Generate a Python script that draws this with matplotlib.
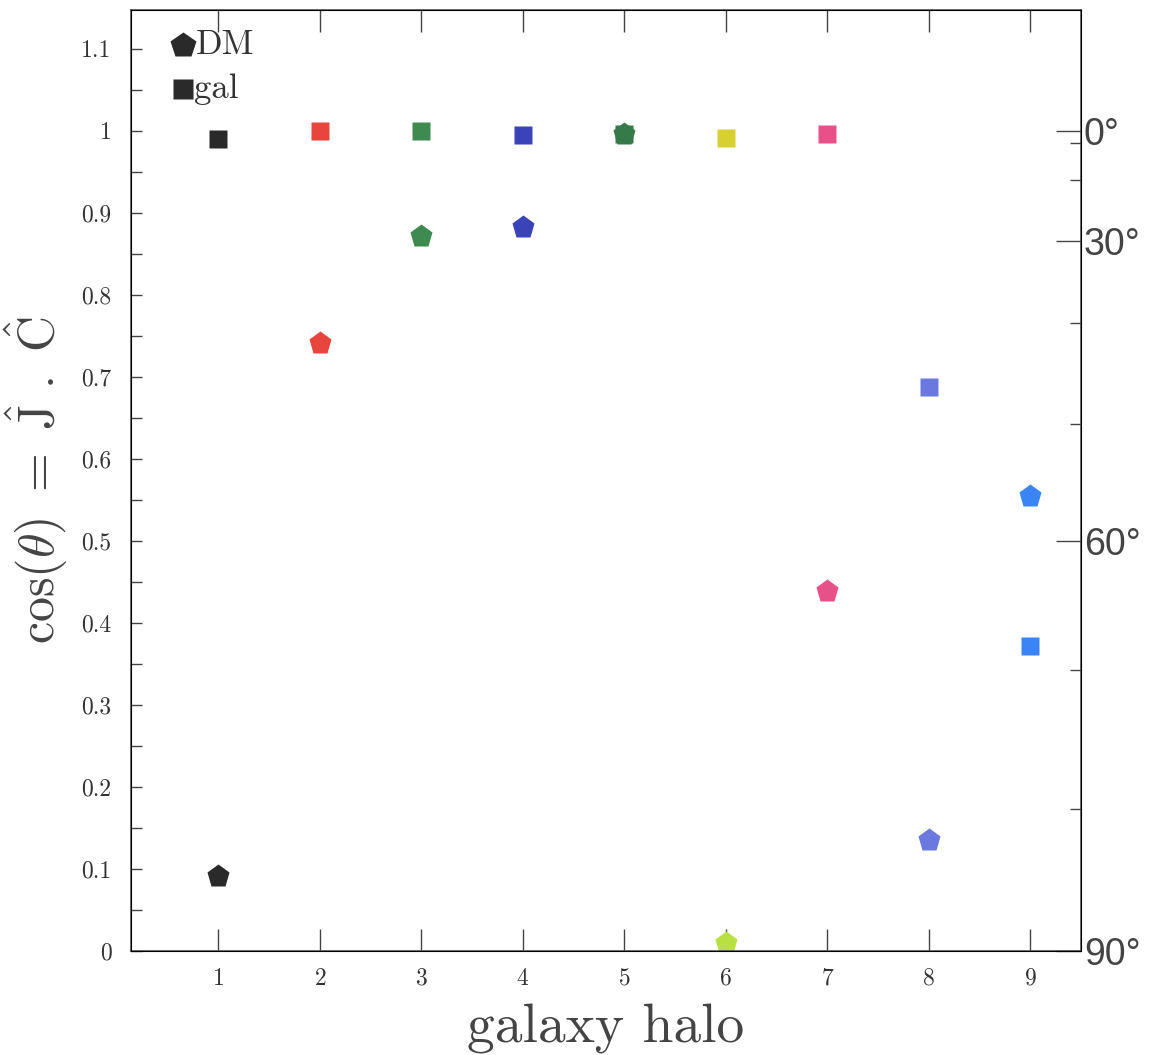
import numpy as np
import matplotlib
matplotlib.use("Agg")
import matplotlib.pyplot as plt

plt.rcParams['font.family'] = ['cmr10', 'DejaVu Serif']
plt.rcParams['mathtext.fontset'] = 'cm'
plt.rcParams['axes.formatter.use_mathtext'] = True

halo = [1, 2, 3, 4, 5, 6, 7, 8, 9]
cos_dm = [0.091, 0.741, 0.871, 0.883, 0.996, 0.010, 0.439, 0.135, 0.555]
cos_gal = [0.990, 0.999, 0.999, 0.995, 0.996, 0.991, 0.996, 0.687, 0.372]
col_dm = ['#2a2a2a', '#e8463c', '#3f8a50', '#3a44b8', '#357a48', '#b8e040', '#e8508a', '#6a78e0', '#3a85f5']
col_gal = ['#2a2a2a', '#e8463c', '#3f8a50', '#3a44b8', '#357a48', '#d8d030', '#e8508a', '#6a78e0', '#3a85f5']
angle_ticks = [0, 10, 20, 30, 40, 50, 60, 70, 80, 90]
angle_labels = [0, 30, 60, 90]

fig = plt.figure(figsize=(11.52, 10.55), dpi=100)
ax = fig.add_axes([0.1137, 0.0986, 0.8247, 0.8919])

for i in range(len(halo)):
    ax.plot(halo[i], cos_gal[i], 's', color=col_gal[i], ms=13, mec='none')
    ax.plot(halo[i], cos_dm[i], 'p', color=col_dm[i], ms=17, mec='none')

ax.set_xlim(0.14, 9.5)
ax.set_ylim(0, 1.147)
ax.set_xticks(halo)
ax.set_yticks(np.arange(0, 1.15, 0.1))
ax.set_yticklabels(['0', '0.1', '0.2', '0.3', '0.4', '0.5', '0.6', '0.7', '0.8', '0.9', '1', '1.1'])
ax.set_yticks(np.arange(0.05, 1.15, 0.1), minor=True)
ax.tick_params(axis='x', which='major', direction='in', length=16, width=1, top=True, labelsize=17, pad=12, color='#444444', labelcolor='#333333')
ax.tick_params(axis='y', which='both', direction='in', length=8, width=1, right=False, labelsize=17, pad=14, color='#444444', labelcolor='#333333')
for s in ax.spines.values():
    s.set_color('#555555')
    s.set_linewidth(1.2)

ax.set_xlabel('galaxy halo', fontsize=40, color='#444444', labelpad=10)
ax.set_ylabel(r'$\cos(\theta)\ =\ \hat{\rm J}\ .\ \hat{\rm C}$', fontsize=36, color='#444444', labelpad=8)

# angle axis on the right
ax2 = ax.twinx()
ax2.set_ylim(ax.get_ylim())
ax2.set_yticks([np.cos(np.radians(a)) for a in angle_labels])
ax2.set_yticklabels([f'{a}°' for a in angle_labels], family='Liberation Sans', fontsize=27, color='#444444')
ax2.set_yticks([np.cos(np.radians(a)) for a in angle_ticks if a not in angle_labels], minor=True)
ax2.tick_params(axis='y', which='major', direction='in', length=18, width=1, pad=2, color='#444444')
ax2.tick_params(axis='y', which='minor', direction='in', length=8, width=1, color='#444444')

# legend
ax.plot([0.65], [1.104], 'p', color='#2a2a2a', ms=19, mec='none')
ax.text(0.78, 1.104, 'DM', fontsize=25, va='center', color='#333333')
ax.plot([0.65], [1.051], 's', color='#2a2a2a', ms=14, mec='none')
ax.text(0.76, 1.051, 'gal', fontsize=25, va='center', color='#333333')

fig.savefig('out.png', dpi=100)
